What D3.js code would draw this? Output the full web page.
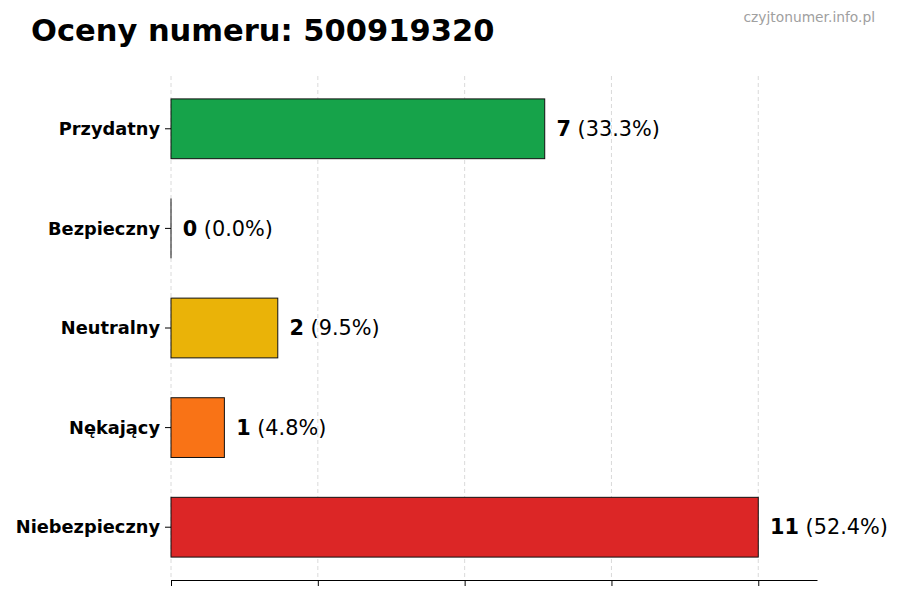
<!DOCTYPE html>
<html>
<head>
<meta charset="utf-8">
<script src="https://cdn.jsdelivr.net/npm/d3@7"></script>
<style>
  body { margin: 0; background: #fff; }
  text { font-family: "DejaVu Sans", sans-serif; }
</style>
</head>
<body>
<script>
const categories = ['Przydatny', 'Bezpieczny', 'Neutralny', 'Nękający', 'Niebezpieczny']
const counts = [7, 0, 2, 1, 11]
const percents = ['33.3%', '0.0%', '9.5%', '4.8%', '52.4%']
const colors = ['#16a34a', '#2563eb', '#eab308', '#f97316', '#dc2626']

const width = 900
const height = 600
const plotLeft = 171, plotRight = 817, plotTop = 76, plotBottom = 580

const svg = d3.select('body').append('svg').attr('width', width).attr('height', height)

const maxVal = d3.max(counts)
const xScale = d3.scaleLinear().domain([0, maxVal * 1.1]).range([plotLeft, plotRight])
// first category at top
const yScale = d3.scaleLinear().domain([-0.53, categories.length - 1 + 0.53]).range([plotTop, plotBottom])
const step = Math.abs(yScale(1) - yScale(0))
const barH = step * 0.6

const tickVals = d3.range(5).map(i => maxVal * i / 4)

// grid
svg.append('g').selectAll('line').data(tickVals).enter().append('line')
    .attr('x1', d => xScale(d)).attr('x2', d => xScale(d))
    .attr('y1', plotTop).attr('y2', plotBottom)
    .attr('stroke', '#d0d0d0').attr('stroke-width', 0.8).attr('stroke-dasharray', '4,3')

// bars
svg.append('g').selectAll('rect').data(counts).enter().append('rect')
    .attr('x', xScale(0))
    .attr('y', (d, i) => yScale(i) - barH / 2)
    .attr('width', d => xScale(d) - xScale(0))
    .attr('height', barH)
    .attr('fill', (d, i) => colors[i])
    .attr('stroke', '#111').attr('stroke-width', 1)

// zero-width bars still show their edge
svg.append('g').selectAll('line').data(counts.map((d, i) => ({ d, i })).filter(o => o.d === 0)).enter().append('line')
    .attr('x1', xScale(0)).attr('x2', xScale(0))
    .attr('y1', o => yScale(o.i) - barH / 2).attr('y2', o => yScale(o.i) + barH / 2)
    .attr('stroke', '#111').attr('stroke-width', 1)

// value labels
const lab = svg.append('g').selectAll('text').data(counts).enter().append('text')
    .attr('x', d => xScale(d + maxVal * 0.02))
    .attr('y', (d, i) => yScale(i))
    .attr('dy', '0.35em')
    .attr('font-size', 20.8)
    .attr('fill', '#000')
lab.append('tspan').attr('font-weight', 'bold').text(d => d)
lab.append('tspan').text((d, i) => ` (${percents[i]})`)

// x axis (no labels)
const xAxis = d3.axisBottom(xScale).tickValues(tickVals).tickFormat('').tickSize(6).tickSizeOuter(0)
const gx = svg.append('g').attr('transform', `translate(0, ${plotBottom})`).call(xAxis)
gx.select('.domain').attr('stroke', '#000').attr('stroke-width', 1.2)
gx.selectAll('.tick line').attr('stroke', '#000').attr('stroke-width', 1)

// y ticks and labels
const gy = svg.append('g')
gy.selectAll('line').data(categories).enter().append('line')
    .attr('x1', plotLeft - 6).attr('x2', plotLeft)
    .attr('y1', (d, i) => yScale(i)).attr('y2', (d, i) => yScale(i))
    .attr('stroke', '#000')
gy.selectAll('text').data(categories).enter().append('text')
    .attr('x', plotLeft - 11)
    .attr('y', (d, i) => yScale(i))
    .attr('dy', '0.35em')
    .attr('text-anchor', 'end')
    .attr('font-size', 17.8)
    .attr('font-weight', 'bold')
    .text(d => d)

// title and watermark
svg.append('text').attr('x', 31).attr('y', 41)
    .attr('font-size', 30.5).attr('font-weight', 'bold')
    .text('Oceny numeru: 500919320')
svg.append('text').attr('x', 875).attr('y', 22)
    .attr('text-anchor', 'end').attr('font-size', 13.8).attr('fill', '#a0a0a0')
    .text('czyjtonumer.info.pl')
</script>
</body>
</html>
